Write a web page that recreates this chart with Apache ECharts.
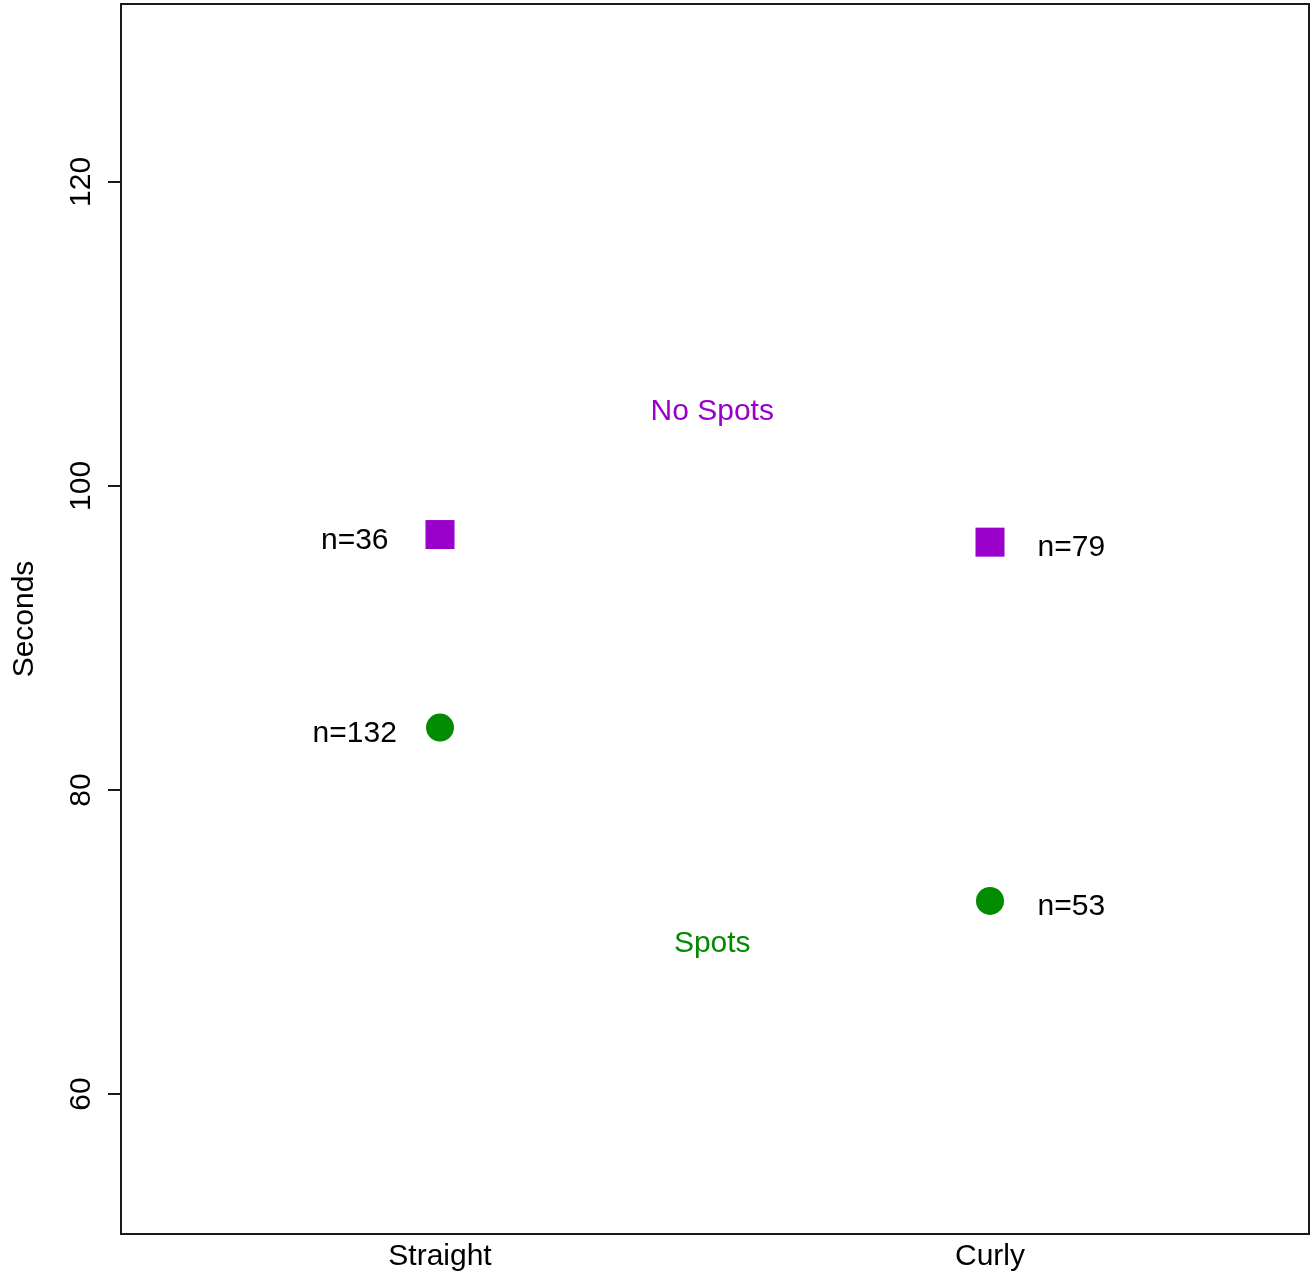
<!DOCTYPE html>
<html>
<head>
<meta charset="utf-8">
<script src="https://cdn.jsdelivr.net/npm/echarts@6/dist/echarts.min.js"></script>
<style>
  html, body { margin: 0; padding: 0; background: #fff; }
  #chart { width: 1311px; height: 1274px; }
</style>
</head>
<body>
<div id="chart"></div>
<script>
// Hair type groups on the x axis (plotted at positions 1 and 2)
const hairTypes = ['Straight', 'Curly'];
// Mean seconds per group
const noSpotsMeans = [96.8, 96.3];
const spotsMeans = [84.1, 72.7];
// Sample sizes per group
const noSpotsN = [36, 79];
const spotsN = [132, 53];
// Y axis tick values
const yTicks = [60, 80, 100, 120];
// Group name labels and where they sit (x, y in data units)
const groupNames = ['No Spots', 'Spots'];
const groupNameY = [105, 70];

const FONT = '"Liberation Sans", Arial, sans-serif';
const PURPLE = '#9900CC';
const GREEN = '#008B00';

const xPos = hairTypes.map((_, i) => i + 1);
// n= labels sit to the left of Straight and to the right of Curly
const labelShift = [-0.155, 0.148];

const noSpotsPts = xPos.map((x, i) => [x, noSpotsMeans[i]]);
const spotsPts = xPos.map((x, i) => [x, spotsMeans[i]]);
const nLabels = [];
xPos.forEach((x, i) => {
  nLabels.push({ value: [x + labelShift[i], noSpotsMeans[i]], n: noSpotsN[i] });
  nLabels.push({ value: [x + labelShift[i], spotsMeans[i]], n: spotsN[i] });
});

const textLabel = (color, dy) => ({
  show: true,
  position: 'inside',
  offset: [0, dy],
  color: color,
  fontFamily: FONT,
  fontSize: 30,
  formatter: (p) => p.data.text
});

const chart = echarts.init(document.getElementById('chart'), null, { renderer: 'canvas' });
chart.setOption({
  animation: false,
  backgroundColor: '#ffffff',
  grid: {
    left: 121, right: 2, top: 4, bottom: 40,
    show: true, borderColor: '#1a1a1a', borderWidth: 2, backgroundColor: 'transparent'
  },
  xAxis: {
    type: 'value',
    min: 0.42, max: 2.58,
    splitLine: { show: false },
    axisLine: { show: false },
    axisTick: { show: false },
    axisLabel: {
      customValues: xPos,
      formatter: (v) => hairTypes[Math.round(v) - 1] || '',
      color: '#000', fontFamily: FONT, fontSize: 30, margin: 8
    }
  },
  yAxis: {
    type: 'value',
    min: 50.79, max: 131.7,
    name: 'Seconds',
    nameLocation: 'middle',
    nameRotate: 90,
    nameGap: 81,
    nameTextStyle: { color: '#000', fontFamily: FONT, fontSize: 30 },
    splitLine: { show: false },
    axisLine: { show: false },
    axisTick: { show: true, customValues: yTicks, length: 13, lineStyle: { color: '#1a1a1a', width: 2 } },
    axisLabel: {
      customValues: yTicks,
      rotate: 90,
      color: '#000', fontFamily: FONT, fontSize: 30, margin: 24
    }
  },
  series: [
    {
      name: 'No Spots', type: 'scatter', symbol: 'rect', symbolSize: 29,
      itemStyle: { color: PURPLE, opacity: 1 }, data: noSpotsPts, z: 3
    },
    {
      name: 'Spots', type: 'scatter', symbol: 'circle', symbolSize: 28,
      itemStyle: { color: GREEN, opacity: 1 }, data: spotsPts, z: 3
    },
    {
      name: 'n', type: 'scatter', symbolSize: 0, silent: true,
      itemStyle: { opacity: 1 },
      data: nLabels.map((d) => ({ value: d.value, text: 'n=' + d.n })),
      label: textLabel('#000', 6)
    },
    {
      name: 'groups', type: 'scatter', symbolSize: 0, silent: true,
      itemStyle: { opacity: 1 },
      data: groupNames.map((g, i) => ({
        value: [1.495, groupNameY[i]], text: g,
        label: { color: i === 0 ? PURPLE : GREEN }
      })),
      label: textLabel('#000', 2)
    }
  ]
});
</script>
</body>
</html>
